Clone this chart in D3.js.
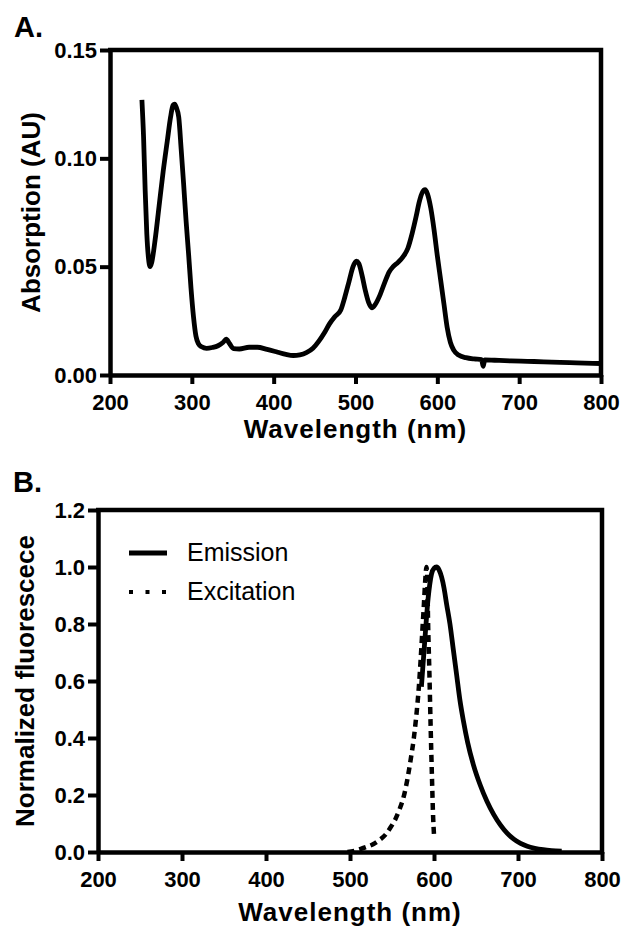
<!DOCTYPE html>
<html>
<head>
<meta charset="utf-8">
<script src="https://cdn.jsdelivr.net/npm/d3@7"></script>
<style>
  html, body { margin: 0; padding: 0; background: #fff; }
  svg { display: block; font-family: "Liberation Sans", Arial, sans-serif; }
</style>
</head>
<body>
<svg id="chart" width="624" height="926"></svg>
<script>
// Panel A: absorption spectrum
const absWl = [239, 241, 243, 245, 247, 249, 251, 255, 260, 265, 270, 274, 277, 279, 281, 284, 287, 290, 293, 296,
  299, 302, 305, 308, 312, 318, 325, 332, 338, 342, 346, 351, 358, 370, 380, 392, 405, 415, 424, 432,
  440, 448, 455, 462, 468, 475, 482, 487, 492, 497, 501, 504, 508, 512, 516, 520, 524, 530, 536, 541,
  546, 552, 558, 564, 569, 574, 578, 582, 585, 588, 592, 596, 600, 604, 608, 612, 616, 620, 626, 635,
  645, 654, 656, 658, 670, 690, 710, 730, 750, 770, 790, 800];
const absVal = [0.127, 0.110, 0.085, 0.065, 0.054, 0.050, 0.052, 0.062, 0.078, 0.094, 0.108, 0.119, 0.1245, 0.125, 0.1235, 0.119, 0.104, 0.088, 0.071, 0.056,
  0.040, 0.027, 0.018, 0.0145, 0.0130, 0.0123, 0.0127, 0.0135, 0.0150, 0.0165, 0.0145, 0.0122, 0.0120, 0.0128, 0.0128, 0.0118, 0.0105, 0.0095, 0.0090, 0.0093,
  0.0103, 0.0123, 0.0155, 0.0195, 0.0235, 0.0270, 0.0300, 0.0360, 0.0430, 0.0500, 0.0525, 0.0515, 0.0460, 0.0390, 0.0335, 0.0310, 0.0325, 0.0370, 0.0430, 0.0475,
  0.0500, 0.0520, 0.0545, 0.0585, 0.0650, 0.0730, 0.0800, 0.0845, 0.0855, 0.0835, 0.0770, 0.0670, 0.0550, 0.0440, 0.0330, 0.0220, 0.0150, 0.0115, 0.0092, 0.0080,
  0.0074, 0.0071, 0.0040, 0.0070, 0.0068, 0.0065, 0.0063, 0.0061, 0.0058, 0.0056, 0.0054, 0.0053];

// Panel B: normalized emission / excitation
const emWl = [585, 587, 589, 591, 593, 595, 597, 600, 603, 606, 609, 612, 615, 619, 623, 627, 631, 635, 640, 647,
  655, 663, 671, 679, 687, 695, 703, 711, 720, 730, 740, 752];
const emVal = [0.58, 0.66, 0.74, 0.82, 0.89, 0.94, 0.975, 0.995, 1.0, 0.99, 0.965, 0.925, 0.87, 0.80, 0.71, 0.62, 0.53, 0.46, 0.385, 0.305,
  0.235, 0.178, 0.132, 0.095, 0.066, 0.045, 0.030, 0.020, 0.013, 0.008, 0.005, 0.003];
const exWl = [497, 505, 512, 520, 528, 535, 542, 548, 554, 559, 564, 568, 572, 576, 579, 582, 584, 586, 588, 589.5,
  591, 592, 593, 594.5, 596, 597.5, 599, 600];
const exVal = [0.0, 0.004, 0.010, 0.018, 0.028, 0.042, 0.060, 0.085, 0.115, 0.15, 0.195, 0.25, 0.32, 0.40, 0.48, 0.58, 0.67, 0.77, 0.87, 0.95,
  1.0, 0.96, 0.80, 0.63, 0.44, 0.27, 0.12, 0.06];

const seriesNames = ['Emission', 'Excitation'];
const xTicks = [200, 300, 400, 500, 600, 700, 800];
const yTicksA = [0, 0.05, 0.10, 0.15];
const yTicksB = [0, 0.2, 0.4, 0.6, 0.8, 1.0, 1.2];

const svg = d3.select('#chart');

function panel(opts) {
  const x = d3.scaleLinear().domain([200, 800]).range(opts.xr);
  const y = d3.scaleLinear().domain(opts.yd).range(opts.yr);
  const g = svg.append('g');

  const xAxis = d3.axisBottom(x).tickValues(xTicks).tickSize(9).tickSizeOuter(0).tickPadding(8);
  const yAxis = d3.axisLeft(y).tickValues(opts.yTicks).tickSize(10).tickSizeOuter(0).tickPadding(3)
    .tickFormat(d3.format(opts.fmt));

  const gx = g.append('g').attr('transform', `translate(0,${opts.yr[0]})`).call(xAxis);
  const gy = g.append('g').attr('transform', `translate(${opts.xr[0]},0)`).call(yAxis);

  [gx, gy].forEach(a => {
    a.select('.domain').attr('stroke-width', 4.5).attr('stroke', '#000');
    a.selectAll('.tick line').attr('stroke-width', 4).attr('stroke', '#000');
    a.selectAll('.tick text')
      .attr('fill', '#000')
      .style('font-size', '22px')
      .style('font-weight', 'bold');
  });
  gx.selectAll('.tick text').attr('dy', '0.82em');

  // box: top and right edges
  g.append('path')
    .attr('d', `M${opts.xr[0] - 2},${opts.yr[1]}H${opts.xr[1]}V${opts.yr[0] + 2}`)
    .attr('fill', 'none')
    .attr('stroke', '#000')
    .attr('stroke-width', 4.5);

  g.append('text')
    .attr('x', (opts.xr[0] + opts.xr[1]) / 2)
    .attr('y', opts.xTitleY)
    .attr('text-anchor', 'middle')
    .style('font-size', '26px')
    .style('font-weight', 'bold')
    .style('letter-spacing', '1px')
    .text('Wavelength (nm)');

  g.append('text')
    .attr('transform', `translate(${opts.yTitleX},${(opts.yr[0] + opts.yr[1]) / 2}) rotate(-90)`)
    .attr('text-anchor', 'middle')
    .style('font-size', '26px')
    .style('font-weight', 'bold')
    .text(opts.yTitle);

  g.append('text')
    .attr('x', opts.labelX)
    .attr('y', opts.labelY)
    .style('font-size', '29px')
    .style('font-weight', 'bold')
    .text(opts.label);

  return {x, y, g};
}

// A
const pA = panel({
  xr: [110, 601], yr: [375, 50], yd: [0, 0.15], yTicks: yTicksA, fmt: '.2f',
  xTitleY: 438, yTitleX: 40, yTitle: 'Absorption (AU)', label: 'A.', labelX: 14, labelY: 37
});

const lineA = d3.line()
  .x((d, i) => pA.x(absWl[i]))
  .y(d => pA.y(d))
  .curve(d3.curveMonotoneX);

pA.g.append('path')
  .datum(absVal)
  .attr('d', lineA)
  .attr('fill', 'none')
  .attr('stroke', '#000')
  .attr('stroke-width', 4.8)
  .attr('stroke-linejoin', 'round');

// B
const pB = panel({
  xr: [98, 602], yr: [852, 510], yd: [0, 1.2], yTicks: yTicksB, fmt: '.1f',
  xTitleY: 921, yTitleX: 34, yTitle: 'Normalized fluorescece', label: 'B.', labelX: 13, labelY: 492
});

const lineB = (wl) => d3.line()
  .x((d, i) => pB.x(wl[i]))
  .y(d => pB.y(d))
  .curve(d3.curveMonotoneX);

pB.g.append('path')
  .datum(exVal)
  .attr('d', lineB(exWl))
  .attr('fill', 'none')
  .attr('stroke', '#000')
  .attr('stroke-width', 4.5)
  .attr('stroke-dasharray', '7,5');

pB.g.append('path')
  .datum(emVal)
  .attr('d', lineB(emWl))
  .attr('fill', 'none')
  .attr('stroke', '#000')
  .attr('stroke-width', 4.8)
  .attr('stroke-linejoin', 'round');

// legend
const legend = pB.g.append('g').attr('transform', 'translate(129,553)');
seriesNames.forEach((name, i) => {
  const row = legend.append('g').attr('transform', `translate(0,${i * 39})`);
  row.append('line')
    .attr('x1', 0).attr('x2', 38)
    .attr('stroke', '#000')
    .attr('stroke-width', i === 0 ? 5 : 4)
    .attr('stroke-dasharray', i === 0 ? null : '4,12.5');
  row.append('text')
    .attr('x', 58)
    .attr('y', 8)
    .style('font-size', '25px')
    .text(name);
});
</script>
</body>
</html>
